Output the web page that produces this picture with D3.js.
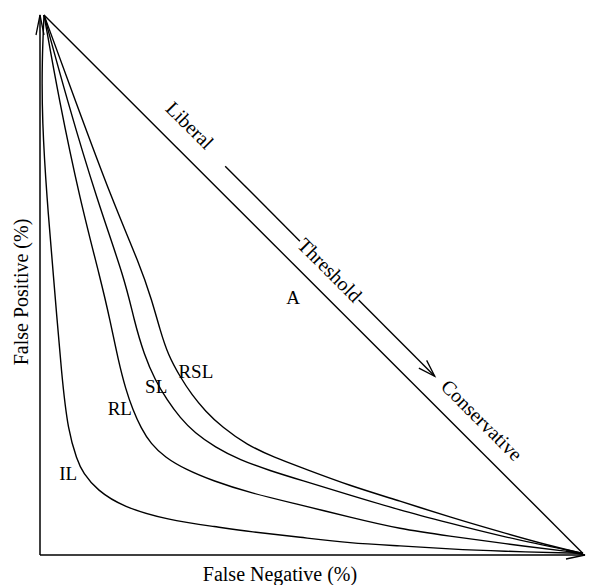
<!DOCTYPE html>
<html>
<head>
<meta charset="utf-8">
<script src="https://cdn.jsdelivr.net/npm/d3@7"></script>
<style>
  html, body { margin: 0; padding: 0; background: #fff; }
  svg { display: block; }
  text { font-family: "Liberation Serif", "Times New Roman", serif; fill: #000; }
</style>
</head>
<body>
<svg id="chart" width="592" height="585"></svg>
<script>
// ---- data (False Negative %, False Positive %) ----
const curveNames = ["IL", "RL", "SL", "RSL"];
const IL = [[0.74,100],[0.37,91.7],[0.37,80.6],[1.29,65.7],[2.39,52.8],[4.05,32.4],[5.16,23.1],[6.81,17.6],[7.92,15.2],[10.5,12.0],[15.3,8.9],[23.4,6.5],[32.6,5.2],[38.7,4.3],[47.9,3.3],[57.1,2.2],[66.3,1.7],[75.5,1.1],[84.7,0.7],[100,0.3]];
const RL = [[0.74,100],[3.5,84.3],[7.37,65.7],[11.2,50.9],[12.9,43.5],[14.4,36.1],[15.8,30.6],[17.1,26.9],[18.6,23.5],[20.4,20.6],[23.0,18.1],[26.7,15.9],[31.9,13.7],[38.7,11.5],[47.9,9.3],[57.1,7.0],[66.3,4.8],[75.5,3.5],[84.7,2.2],[100,0.3]];
const SL = [[0.74,100],[4.97,84.3],[10.5,65.7],[15.7,50.9],[17.3,43.5],[19.2,37.0],[21.2,32.4],[23.4,28.7],[25.8,25.4],[28.5,22.6],[32.2,20.0],[36.8,17.6],[42.4,15.6],[47.9,13.9],[57.1,11.1],[66.3,8.3],[75.5,5.9],[84.7,3.5],[100,0.3]];
const RSL = [[0.74,100],[6.45,84.3],[13.3,65.7],[18.4,53.7],[20.6,47.2],[22.1,41.7],[23.6,37.0],[25.8,33.0],[28.0,29.6],[30.4,26.7],[33.5,23.7],[38.1,20.4],[43.3,18.0],[47.9,16.3],[57.1,12.8],[66.3,10.0],[75.5,7.0],[84.7,4.3],[93.9,1.7],[100,0.3]];
const diagonal = [[0.74,100],[100,0.3]];
const thresholdArrow = [[34.1,72.0],[72.7,33.1]];
const labelNames = ["IL", "RL", "SL", "RSL", "A"];
const labelPos = [[5.2,13.9],[14.7,25.9],[21.4,30.0],[28.7,32.8],[46.6,46.5]];
const sideLabels = ["Liberal", "Threshold", "Conservative"];
const sidePos = [[27.6,79.6],[53.4,52.8],[81.4,25.0]];
const xTitle = "False Negative (%)";
const yTitle = "False Positive (%)";

// ---- layout ----
const svg = d3.select("#chart");
const x = d3.scaleLinear().domain([0, 100]).range([40, 583]);
const y = d3.scaleLinear().domain([0, 100]).range([555, 15]);

const stroke = "#000";

function arrowHead(g, tip, dir, len, half) {
  const [dx, dy] = dir;
  const n = Math.hypot(dx, dy), ux = dx / n, uy = dy / n;
  const bx = tip[0] - ux * len, by = tip[1] - uy * len;
  const p1 = [bx - uy * half, by + ux * half];
  const p2 = [bx + uy * half, by - ux * half];
  g.append("path")
    .attr("d", `M${p1[0]},${p1[1]}L${tip[0]},${tip[1]}L${p2[0]},${p2[1]}`)
    .attr("fill", "none").attr("stroke", stroke).attr("stroke-width", 1.3);
}

const axes = svg.append("g");
axes.append("line").attr("x1", x(0)).attr("y1", y(0)).attr("x2", x(0)).attr("y2", y(100))
  .attr("stroke", stroke).attr("stroke-width", 1.5);
axes.append("line").attr("x1", x(0)).attr("y1", y(0)).attr("x2", x(100) + 2).attr("y2", y(0))
  .attr("stroke", stroke).attr("stroke-width", 1.5);
arrowHead(axes, [x(0), y(100)], [0, -1], 20, 4);
arrowHead(axes, [x(100) + 2, y(0)], [1, 0], 19, 4);

const line = d3.line().x(d => x(d[0])).y(d => y(d[1]));
svg.append("path").datum(diagonal).attr("d", line)
  .attr("fill", "none").attr("stroke", stroke).attr("stroke-width", 1.4);

const curveLine = d3.line().x(d => x(d[0])).y(d => y(d[1])).curve(d3.curveBasis);
[IL, RL, SL, RSL].forEach(c => {
  svg.append("path").datum(c).attr("d", curveLine)
    .attr("fill", "none").attr("stroke", stroke).attr("stroke-width", 1.4);
});

labelNames.forEach((t, i) => {
  svg.append("text").attr("x", x(labelPos[i][0])).attr("y", y(labelPos[i][1]))
    .attr("text-anchor", "middle").attr("font-size", 19).text(t);
});

const sideTexts = sideLabels.map((t, i) => {
  const px = x(sidePos[i][0]), py = y(sidePos[i][1]);
  return svg.append("text")
    .attr("transform", `translate(${px},${py}) rotate(45)`)
    .attr("text-anchor", "middle").attr("dominant-baseline", "central")
    .attr("font-size", 20).text(t);
});

const a0 = [x(thresholdArrow[0][0]), y(thresholdArrow[0][1])];
const a1 = [x(thresholdArrow[1][0]), y(thresholdArrow[1][1])];
const dxA = a1[0] - a0[0], dyA = a1[1] - a0[1];
const L = Math.hypot(dxA, dyA), ux = dxA / L, uy = dyA / L;
const tc = [x(sidePos[1][0]), y(sidePos[1][1])];
const tproj = (tc[0] - a0[0]) * ux + (tc[1] - a0[1]) * uy;
const half = sideTexts[1].node().getComputedTextLength() / 2 + 1;
const g1 = tproj - half, g2 = tproj + half;
svg.append("line").attr("x1", a0[0]).attr("y1", a0[1])
  .attr("x2", a0[0] + ux * g1).attr("y2", a0[1] + uy * g1)
  .attr("stroke", stroke).attr("stroke-width", 1.4);
svg.append("line").attr("x1", a0[0] + ux * g2).attr("y1", a0[1] + uy * g2)
  .attr("x2", a1[0]).attr("y2", a1[1])
  .attr("stroke", stroke).attr("stroke-width", 1.4);
arrowHead(svg, a1, [dxA, dyA], 17, 5.5);

svg.append("text").attr("x", 280).attr("y", 581).attr("text-anchor", "middle")
  .attr("font-size", 20).text(xTitle);
svg.append("text").attr("transform", "translate(28,292) rotate(-90)")
  .attr("text-anchor", "middle").attr("font-size", 20).text(yTitle);
</script>
</body>
</html>
